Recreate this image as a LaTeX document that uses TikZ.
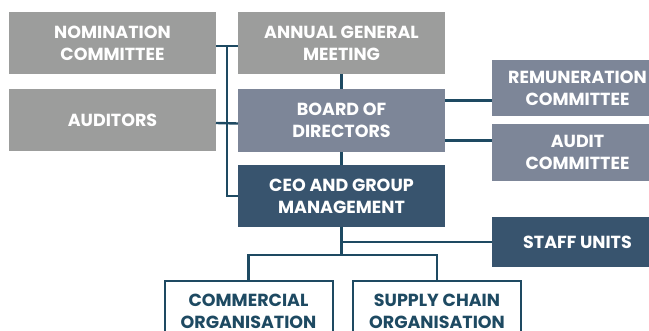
\documentclass[tikz,border=0pt]{standalone}
\usepackage{fontspec}
\setmainfont{Poppins}
\usetikzlibrary{positioning,calc}
\definecolor{greybox}{HTML}{9C9D9C}
\definecolor{boardbox}{HTML}{7D8698}
\definecolor{ceobox}{HTML}{38546E}
\definecolor{linkcol}{HTML}{1E4A62}

\begin{document}
\begin{tikzpicture}[x=1pt, y=1pt, line width=2.4pt,
    box/.style = {text=white, font=\fontsize{17.5}{22}\selectfont\bfseries, align=center, inner sep=0pt, outer sep=0pt, execute at begin node={\vspace*{5pt}}},
    grey/.style = {box, fill=greybox, minimum width=207pt, minimum height=62pt},
    board/.style = {box, fill=boardbox},
    ceo/.style = {box, fill=ceobox},
    unit/.style = {box, draw=linkcol, line width=2pt, fill=white, text=linkcol, minimum width=168pt, minimum height=61pt},
    link/.style = {draw=linkcol}]
    \useasboundingbox (0,0) rectangle (649,-331);
    \node[grey] (nom) at (112.5,-43) {NOMINATION\\COMMITTEE};
    \node[grey] (aud) [below=15pt of nom] {AUDITORS};
    \node[grey] (agm) [right=22pt of nom] {ANNUAL GENERAL\\MEETING};
    \node[board, minimum width=207pt, minimum height=63pt] (brd) [below=15pt of agm] {BOARD OF\\DIRECTORS};
    \node[ceo, minimum width=207pt, minimum height=62pt] (ceo) [below=13pt of brd] {CEO AND GROUP\\MANAGEMENT};
    \node[board, minimum width=171pt, minimum height=56pt] (rem) at (577.5,-88) {REMUNERATION\\COMMITTEE};
    \node[board, minimum width=171pt, minimum height=57pt] (adc) [below=8pt of rem] {AUDIT\\COMMITTEE};
    \node[ceo, minimum width=171pt, minimum height=50pt] (staff) at (577.5,-242) {STAFF UNITS};
    \node[unit] (comm) at (248.5,-311.5) {COMMERCIAL\\ORGANISATION};
    \node[unit] (sup) at (437,-311.5) {SUPPLY CHAIN\\ORGANISATION};
    % left side
    \coordinate (spine) at ($(nom.east)!0.5!(agm.west)$);
    \draw[link] ([yshift=-3pt]nom.east) -- ([yshift=-3pt]agm.west);
    \draw[link] ([yshift=-3pt]aud.east) -- ([yshift=-3pt]brd.west);
    \draw[link] ([yshift=-3pt]spine) |- (ceo.west);
    \draw[link] (agm) -- (brd);
    \draw[link] (brd) -- (ceo);
    % board committees
    \draw[link] ([yshift=20pt]brd.east) -- ([yshift=20pt]brd.east -| rem.west);
    \draw[link] ([yshift=-20pt]brd.east) -- ([yshift=-20pt]brd.east -| adc.west);
    % management
    \draw[link] (ceo.south) |- (staff.west);
    \draw[link] (ceo.south) -- ++(0,-28) coordinate (fork);
    \draw[link] (comm.north) |- (fork) -| (sup.north);
\end{tikzpicture}
\end{document}
